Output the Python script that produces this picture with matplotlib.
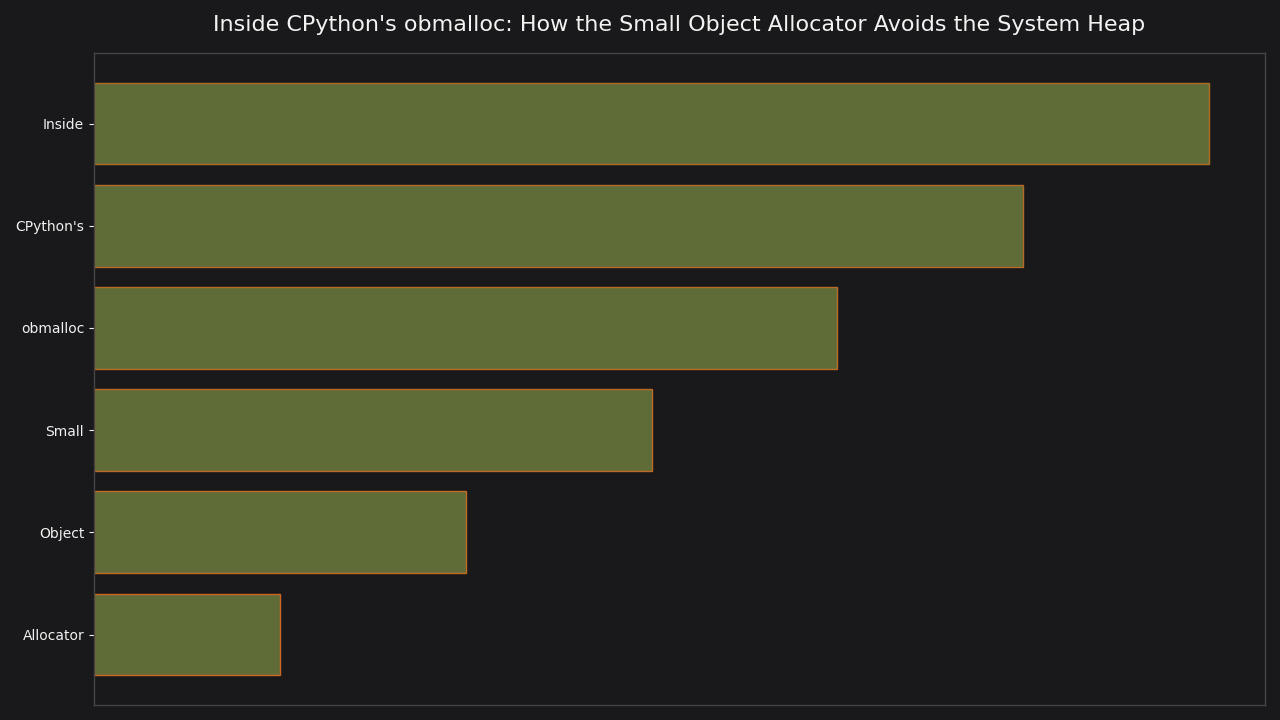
import matplotlib.pyplot as plt
import numpy as np

words = ['Inside', "CPython's", 'obmalloc', 'Small', 'Object', 'Allocator']
values = [6, 5, 4, 3, 2, 1]

bg = '#19191b'
fill = '#606c38'
edges = ['#b06d28', '#b46b27', '#b86a26', '#bc6a25', '#c26924', '#cc6622']

fig = plt.figure(figsize=(12.8, 7.2), dpi=100, facecolor=bg)
ax = fig.add_axes([0.0734, 0.0208, 0.9149, 0.9056])
ax.set_facecolor(bg)

ypos = np.arange(len(words))
ax.barh(ypos, values, height=0.8, color=fill, edgecolor=edges, linewidth=1.0)
ax.set_yticks(ypos)
ax.set_yticklabels(words)
ax.invert_yaxis()
ax.set_xticks([])

for s in ax.spines.values():
    s.set_color('#444444')
    s.set_linewidth(1.0)
ax.tick_params(axis='y', colors='#f0f0f0', labelsize=10)

ax.set_title("Inside CPython's obmalloc: How the Small Object Allocator Avoids the System Heap",
             color='#f2f2f2', fontsize=16, pad=16)

plt.savefig('out.png', facecolor=bg)
